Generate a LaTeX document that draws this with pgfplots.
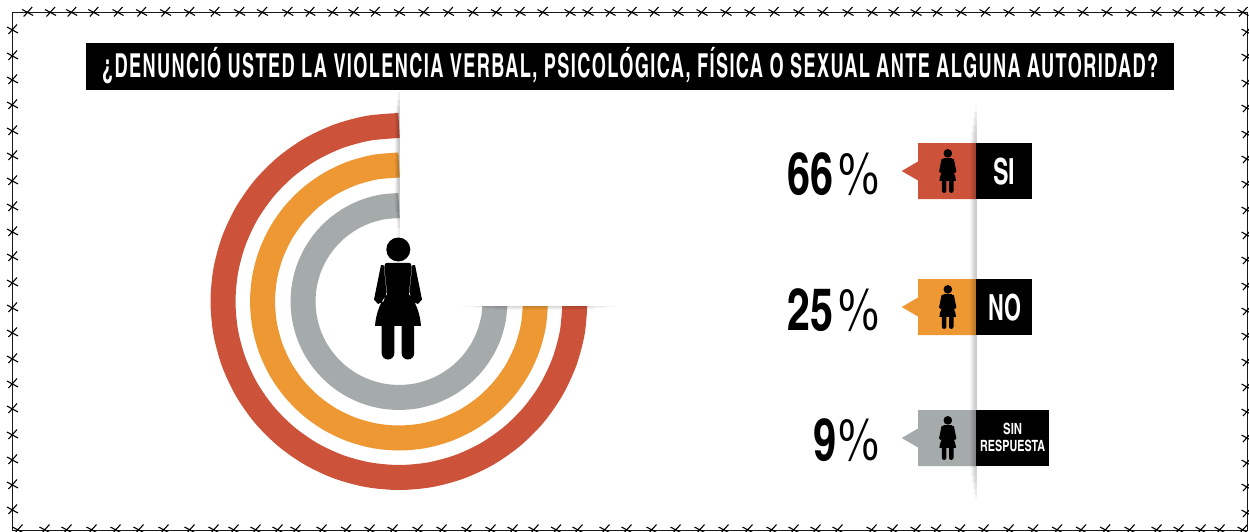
\documentclass[border=0pt]{standalone}
\usepackage{fontspec}
\usepackage{graphicx}
\usepackage{pgfplots}
\pgfplotsset{compat=1.18}
\setmainfont{TeX Gyre Heros Cn}
\definecolor{cred}{HTML}{CC533A}
\definecolor{corange}{HTML}{EE9833}
\definecolor{cgray}{HTML}{A5AAAB}
\newcommand{\T}[3]{\resizebox{#2pt}{\height}{\fontsize{#1pt}{#1pt}\selectfont\bfseries #3}}
\newcommand{\Tl}[3]{\resizebox{#2pt}{\height}{\fontsize{#1pt}{#1pt}\selectfont\bfseries\addfontfeatures{LetterSpace=6}#3}}
\newcommand{\Tr}[3]{\resizebox{#2pt}{\height}{\fontsize{#1pt}{#1pt}\selectfont #3}}
\pgfdeclareplotmark{barb}{%
  \pgfpathmoveto{\pgfqpoint{-4pt}{-4pt}}\pgfpathlineto{\pgfqpoint{4.5pt}{5.5pt}}%
  \pgfpathmoveto{\pgfqpoint{-5.5pt}{3pt}}\pgfpathlineto{\pgfqpoint{5.5pt}{-3pt}}%
  \pgfusepathqstroke}
\newcommand{\Mv}[2]{\pgfpathmoveto{\pgfqpoint{#1pt}{#2pt}}}
\newcommand{\Ln}[2]{\pgfpathlineto{\pgfqpoint{#1pt}{#2pt}}}
\newcommand{\Cv}[6]{\pgfpathcurveto{\pgfqpoint{#1pt}{#2pt}}{\pgfqpoint{#3pt}{#4pt}}{\pgfqpoint{#5pt}{#6pt}}}
\pgfdeclareplotmark{woman}{%
  \pgfpathcircle{\pgfqpoint{0.3pt}{49pt}}{12pt}%
  % skirt and torso
  \Mv{-13.7}{31.7}\Cv{-13.5}{34.5}{-12.5}{35.7}{-11}{35.7}\Ln{11}{35.7}\Cv{12.5}{35.7}{13.5}{34.5}{13.7}{31.7}%
  \Ln{10.8}{4.3}\Cv{17}{-2}{22}{-14}{23}{-27.3}\Ln{-23}{-27.3}\Cv{-22}{-14}{-17}{-2}{-10.8}{4.3}\pgfpathclose
  % legs
  \pgfpathrectangle{\pgfqpoint{-16.3pt}{-55pt}}{\pgfqpoint{12.6pt}{28pt}}%
  \pgfpathcircle{\pgfqpoint{-10pt}{-54.7pt}}{6.3pt}%
  \pgfpathrectangle{\pgfqpoint{3.7pt}{-55pt}}{\pgfqpoint{12.4pt}{28pt}}%
  \pgfpathcircle{\pgfqpoint{9.9pt}{-54.7pt}}{6.3pt}%
  % arms
  \pgfsetcornersarced{\pgfqpoint{2.5pt}{2.5pt}}%
  \Mv{-14.4}{33.5}\Ln{-17}{33.5}\Ln{-24}{-1}\Ln{-20}{-5.5}\Ln{-14.5}{-3}\Ln{-11.5}{6}\pgfpathclose
  \Mv{14.4}{33.5}\Ln{17}{33.5}\Ln{24}{-1}\Ln{20}{-5.5}\Ln{14.5}{-3}\Ln{11.5}{6}\pgfpathclose
  \pgfusepathqfill}
\begin{document}
\begin{tikzpicture}
% rings: angle, radius about their common centre
\begin{axis}[at={(0pt,0pt)},anchor=south west,scale only axis,width=1249pt,height=531pt,hide axis,
  xmin=-399,xmax=850,ymin=-229.5,ymax=301.5]
\addplot[cred,line width=25pt,smooth,no marks,data cs=polar] coordinates {(90,176)(100,176)(110,176)(120,176)(130,176)(140,176)(150,176)(160,176)(170,176)(180,176)(190,176)(200,176)(210,176)(220,176)(230,176)(240,176)(250,176)(260,176)(270,176)(280,176)(290,176)(300,176)(310,176)(320,176)(330,176)(340,176)(350,176)(360,176)};
\addplot[corange,line width=25pt,smooth,no marks,data cs=polar] coordinates {(90,136.5)(100,136.5)(110,136.5)(120,136.5)(130,136.5)(140,136.5)(150,136.5)(160,136.5)(170,136.5)(180,136.5)(190,136.5)(200,136.5)(210,136.5)(220,136.5)(230,136.5)(240,136.5)(250,136.5)(260,136.5)(270,136.5)(280,136.5)(290,136.5)(300,136.5)(310,136.5)(320,136.5)(330,136.5)(340,136.5)(350,136.5)(360,136.5)};
\addplot[cgray,line width=25pt,smooth,no marks,data cs=polar] coordinates {(90,96)(100,96)(110,96)(120,96)(130,96)(140,96)(150,96)(160,96)(170,96)(180,96)(190,96)(200,96)(210,96)(220,96)(230,96)(240,96)(250,96)(260,96)(270,96)(280,96)(290,96)(300,96)(310,96)(320,96)(330,96)(340,96)(350,96)(360,96)};
\end{axis}
% everything else in image pixels
\begin{axis}[at={(0pt,0pt)},anchor=south west,scale only axis,width=1249pt,height=531pt,hide axis,
  xmin=0,xmax=1249,ymin=0,ymax=531,y dir=reverse]
% white panel
\addplot[fill=white,draw=none,forget plot] coordinates {(399.5,100)(640,100)(640,305.7)(399.5,305.7)} -- cycle;
% panel shadows: nested translucent strips, tapering at the ends
\fill[black,opacity=.05] (axis cs:395,112) rectangle (axis cs:399.5,212);
\fill[black,opacity=.05] (axis cs:396,106) rectangle (axis cs:399.5,220);
\fill[black,opacity=.06] (axis cs:397,100) rectangle (axis cs:399.5,228);
\fill[black,opacity=.07] (axis cs:398,92) rectangle (axis cs:399.5,238);
\fill[black,opacity=.04] (axis cs:495,305.7) rectangle (axis cs:585,309.5);
\fill[black,opacity=.04] (axis cs:485,305.7) rectangle (axis cs:595,308.5);
\fill[black,opacity=.04] (axis cs:475,305.7) rectangle (axis cs:605,307.5);
\fill[black,opacity=.04] (axis cs:462,305.7) rectangle (axis cs:616,306.7);
% tag boxes
\addplot[fill=cred,draw=none] coordinates {(918,143)(976,143)(976,199)(918,199)(918,180.5)(901.7,171)(918,161.5)} -- cycle;
\addplot[fill=corange,draw=none] coordinates {(918,279)(976,279)(976,335)(918,335)(918,316.5)(901.7,307)(918,297.5)} -- cycle;
\addplot[fill=cgray,draw=none] coordinates {(918,410)(976,410)(976,466)(918,466)(918,447.5)(901.7,438)(918,428.5)} -- cycle;
% divider shadow: nested translucent strips, tapering at the ends
\fill[black,opacity=.03] (axis cs:970,140) rectangle (axis cs:976.5,468);
\fill[black,opacity=.03] (axis cs:971,132) rectangle (axis cs:976.5,476);
\fill[black,opacity=.04] (axis cs:972,125) rectangle (axis cs:976.5,483);
\fill[black,opacity=.04] (axis cs:973,118) rectangle (axis cs:976.5,489);
\fill[black,opacity=.04] (axis cs:974,112) rectangle (axis cs:976.5,495);
\fill[black,opacity=.04] (axis cs:975,106) rectangle (axis cs:976.5,500);
% black boxes
\addplot[fill=black,draw=none] coordinates {(976,143)(1032,143)(1032,199)(976,199)} -- cycle;
\addplot[fill=black,draw=none] coordinates {(976,279)(1032,279)(1032,335)(976,335)} -- cycle;
\addplot[fill=black,draw=none] coordinates {(976,410)(1049,410)(1049,466)(976,466)} -- cycle;
\addplot[fill=black,draw=none] coordinates {(86,43)(1174,43)(1174,90)(86,90)} -- cycle;
% women
\addplot[only marks,mark=woman,black,mark options={fill=black,draw=none}] coordinates {(398,298.5)};
\addplot[only marks,mark=woman,black,mark options={fill=black,draw=none,scale=.36}] coordinates {(947.7,171)(947.7,307)(947.7,438)};
% frame and barbs
\addplot[draw=black!90,line width=1pt] coordinates {(12.5,12.5)(1247,12.5)(1247,530)(12.5,530)} -- cycle;
\addplot[only marks,mark=barb,black,mark options={line width=1.1pt}] coordinates {
(27.7,12.5)(50.5,12.5)(71.7,12.5)(93.8,12.5)(118,12.5)(141.5,12.5)(165.5,12.5)(189.6,12.5)(214.8,12.5)(239.7,12.5)(262.5,12.5)(287.8,12.5)(309.8,12.5)(332.7,12.5)(353.9,12.5)(375,12.5)(399.5,12.5)(424,12.5)(448.4,12.5)(472.9,12.5)(496.5,12.5)(520,12.5)(543,12.5)(570,12.5)(588,12.5)(610,12.5)(632,12.5)(654,12.5)(678,12.5)(702,12.5)(726,12.5)(750,12.5)(774,12.5)(799,12.5)(823,12.5)(848,12.5)(872,12.5)(894,12.5)(916,12.5)(937,12.5)(961,12.5)(985,12.5)(1009,12.5)(1035,12.5)(1059,12.5)(1083,12.5)(1107,12.5)(1131,12.5)(1156,12.5)(1178,12.5)(1199,12.5)(1220,12.5)(1243,12.5)
(18,530)(45,530)(67,530)(92,530)(116,530)(139,530)(164,530)(190,530)(214,530)(234,530)(256,530)(278,530)(296,530)(322,530)(346.5,530)(370,530)(393,530)(418,530)(442,530)(467,530)(491,530)(513,530)(534,530)(556.5,530)(578,530)(605,530)(627,530)(652,530)(676,530)(700,530)(724,530)(748,530)(772,530)(794,530)(816,530)(838,530)(872,530)(893,530)(916,530)(936.5,530)(960.5,530)(984,530)(1009,530)(1033.5,530)(1057.5,530)(1081.5,530)(1105.6,530)(1130,530)(1157,530)(1179,530)(1201,530)(1220,530)(1243,530)
(12.5,30)(12.5,56)(12.5,80)(12.5,105)(12.5,131)(12.5,156)(12.5,181)(12.5,207)(12.5,232)(12.5,257)(12.5,283)(12.5,308)(12.5,333)(12.5,359)(12.5,384)(12.5,409)(12.5,435)(12.5,460)(12.5,485)(12.5,510)
(1247,32)(1247,57)(1247,83)(1247,108)(1247,134)(1247,159)(1247,184)(1247,210)(1247,235)(1247,260)(1247,286)(1247,311)(1247,336)(1247,362)(1247,387)(1247,412)(1247,438)(1247,463)(1247,487)(1247,513)
};
% text
\node[anchor=base west,inner sep=0pt,text=white] at (axis cs:102,77) {\Tl{33}{1056}{¿DENUNCIÓ USTED LA VIOLENCIA VERBAL, PSICOLÓGICA, FÍSICA O SEXUAL ANTE ALGUNA AUTORIDAD?}};
\node[anchor=base west,inner sep=0pt] at (axis cs:787,194.5) {\T{59}{46}{66}};
\node[anchor=base west,inner sep=0pt] at (axis cs:838,194.5) {\Tr{59}{41}{\%}};
\node[anchor=base west,inner sep=0pt] at (axis cs:787,330.5) {\T{59}{46}{25}};
\node[anchor=base west,inner sep=0pt] at (axis cs:838,330.5) {\Tr{59}{41}{\%}};
\node[anchor=base west,inner sep=0pt] at (axis cs:813,460.5) {\T{59}{23}{9}};
\node[anchor=base west,inner sep=0pt] at (axis cs:838,460.5) {\Tr{59}{41}{\%}};
\node[anchor=base west,inner sep=0pt,text=white] at (axis cs:993,184) {\T{36}{22}{SI}};
\node[anchor=base west,inner sep=0pt,text=white] at (axis cs:988,320) {\T{36}{33}{NO}};
\node[anchor=base west,inner sep=0pt,text=white] at (axis cs:1003,434) {\T{15.5}{19}{SIN}};
\node[anchor=base west,inner sep=0pt,text=white] at (axis cs:980,451) {\T{15.5}{65}{RESPUESTA}};
\end{axis}
\pgfresetboundingbox
\path[use as bounding box] (0pt,0pt) rectangle (1249pt,531pt);
\end{tikzpicture}
\end{document}
